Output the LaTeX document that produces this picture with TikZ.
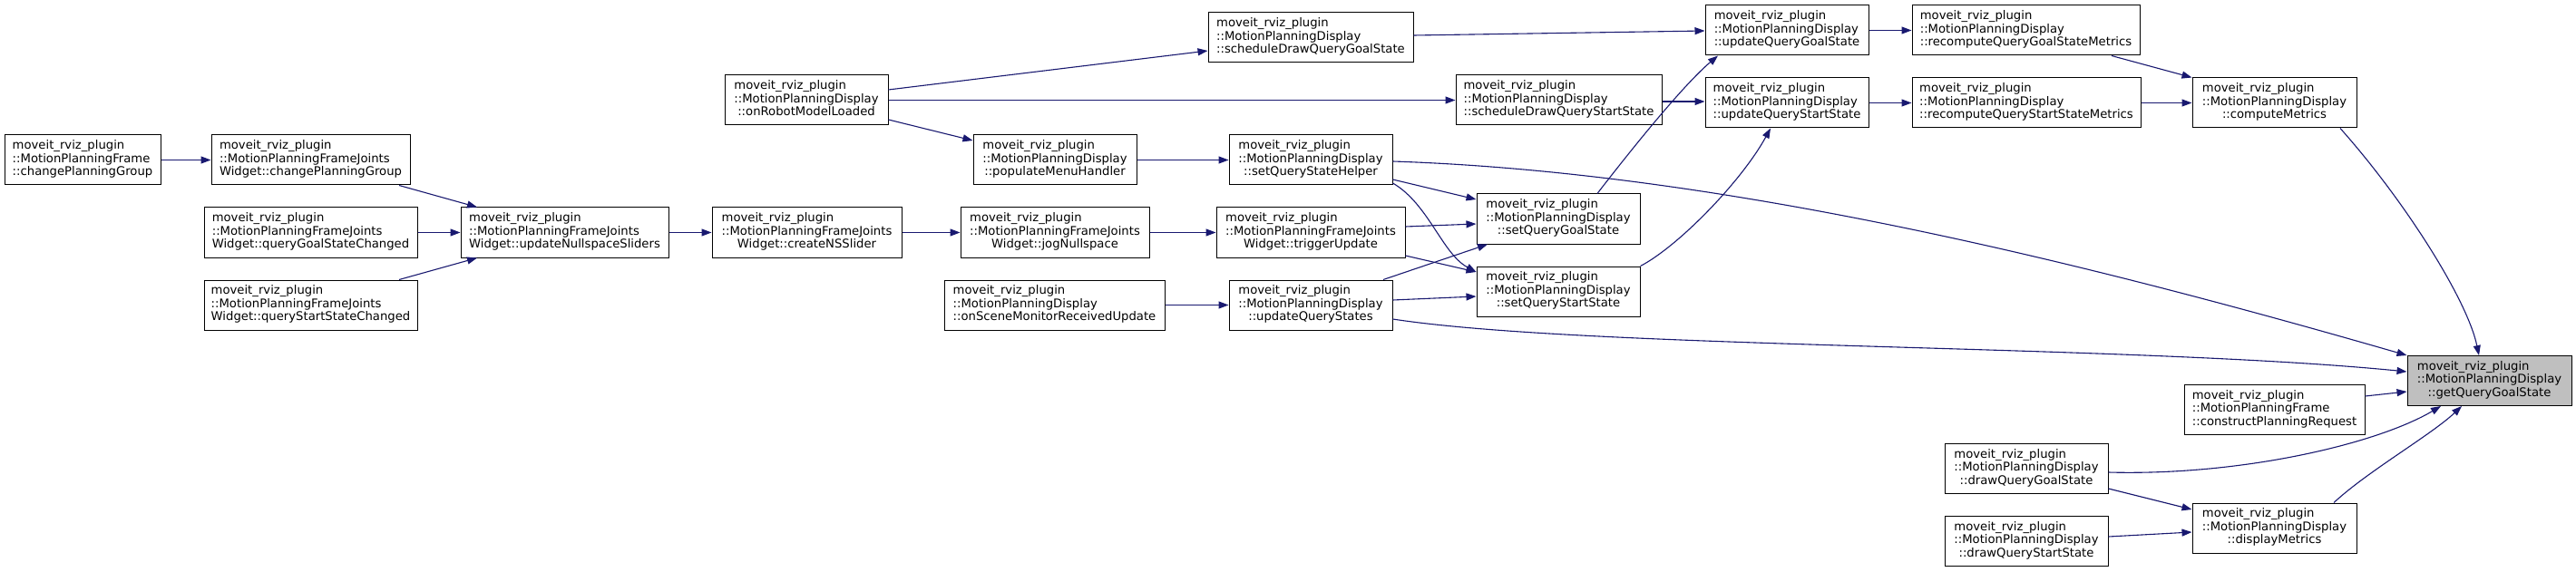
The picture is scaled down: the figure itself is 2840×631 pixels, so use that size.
\documentclass[tikz,border=0pt]{standalone}
\usepackage{fontspec}
\setmainfont{DejaVu Sans}
\usetikzlibrary{arrows.meta}
\definecolor{edgec}{HTML}{191970}
\definecolor{hilite}{HTML}{BFBFBF}
\newcommand\lbl[3]{\begin{tabular}{@{}l@{}}#1\\#2\\\multicolumn{1}{@{}c@{}}{#3}\end{tabular}}
\newcommand\mrp{moveit\_rviz\_plugin}
\newcommand\mpd{::MotionPlanningDisplay}
\newcommand\mpfj{::MotionPlanningFrameJoints}
\begin{document}
\begin{tikzpicture}[x=1pt,y=-1pt,
  font=\fontsize{13.2}{14.5}\selectfont,
  dbox/.style={draw=black,line width=1pt,fill=white,inner sep=0pt,minimum height=55pt,align=center},
  edge/.style={draw=edgec,line width=1.1pt,-{Triangle[length=11pt,width=8pt]}}]
\fill[white] (0,0) rectangle (2840,631);
\useasboundingbox (0,0) rectangle (2840,631);
% nodes
\node[dbox,minimum width=172] (fcpg) at (91,176.5) {\lbl{\mrp}{::MotionPlanningFrame}{::changePlanningGroup}};
\node[dbox,minimum width=219] (jcpg) at (342.5,176.5) {\lbl{\mrp}{\mpfj}{Widget::changePlanningGroup}};
\node[dbox,minimum width=235] (qgsc) at (342.5,256.5) {\lbl{\mrp}{\mpfj}{Widget::queryGoalStateChanged}};
\node[dbox,minimum width=235] (qssc) at (342.5,336.5) {\lbl{\mrp}{\mpfj}{Widget::queryStartStateChanged}};
\node[dbox,minimum width=229] (uns) at (622.5,256.5) {\lbl{\mrp}{\mpfj}{Widget::updateNullspaceSliders}};
\node[dbox,minimum width=209] (cns) at (889.5,256.5) {\lbl{\mrp}{\mpfj}{Widget::createNSSlider}};
\node[dbox,minimum width=180] (orml) at (889,110.5) {\lbl{\mrp}{\mpd}{::onRobotModelLoaded}};
\node[dbox,minimum width=208] (jog) at (1163,256.5) {\lbl{\mrp}{\mpfj}{Widget::jogNullspace}};
\node[dbox,minimum width=243] (smru) at (1162.5,336.5) {\lbl{\mrp}{\mpd}{::onSceneMonitorReceivedUpdate}};
\node[dbox,minimum width=180] (pmh) at (1163,176.5) {\lbl{\mrp}{\mpd}{::populateMenuHandler}};
\node[dbox,minimum width=226] (sdqgs) at (1445,41.5) {\lbl{\mrp}{\mpd}{::scheduleDrawQueryGoalState}};
\node[dbox,minimum width=180] (sqsh) at (1445,176.5) {\lbl{\mrp}{\mpd}{::setQueryStateHelper}};
\node[dbox,minimum width=208] (tu) at (1445,256.5) {\lbl{\mrp}{\mpfj}{Widget::triggerUpdate}};
\node[dbox,minimum width=180] (uqs) at (1445,336.5) {\lbl{\mrp}{\mpd}{::updateQueryStates}};
\node[dbox,minimum width=227] (sdqss) at (1718.5,110.5) {\lbl{\mrp}{\mpd}{::scheduleDrawQueryStartState}};
\node[dbox,minimum width=180] (sqgs) at (1718,241.5) {\lbl{\mrp}{\mpd}{::setQueryGoalState}};
\node[dbox,minimum width=180] (sqss) at (1718,321.5) {\lbl{\mrp}{\mpd}{::setQueryStartState}};
\node[dbox,minimum width=180] (uqgs) at (1970,33.5) {\lbl{\mrp}{\mpd}{::updateQueryGoalState}};
\node[dbox,minimum width=180] (uqss) at (1970,113.5) {\lbl{\mrp}{\mpd}{::updateQueryStartState}};
\node[dbox,minimum width=251] (rqgsm) at (2233.5,33.5) {\lbl{\mrp}{\mpd}{::recomputeQueryGoalStateMetrics}};
\node[dbox,minimum width=252] (rqssm) at (2234,113.5) {\lbl{\mrp}{\mpd}{::recomputeQueryStartStateMetrics}};
\node[dbox,minimum width=181] (cm) at (2507.5,113.5) {\lbl{\mrp}{\mpd}{::computeMetrics}};
\node[dbox,minimum width=181,fill=hilite] (gqgs) at (2744.5,420) {\lbl{\mrp}{\mpd}{::getQueryGoalState}};
\node[dbox,minimum width=199] (cpr) at (2507.5,452) {\lbl{\mrp}{::MotionPlanningFrame}{::constructPlanningRequest}};
\node[dbox,minimum width=180] (dqgs) at (2234,517) {\lbl{\mrp}{\mpd}{::drawQueryGoalState}};
\node[dbox,minimum width=180] (dqss) at (2234,597) {\lbl{\mrp}{\mpd}{::drawQueryStartState}};
\node[dbox,minimum width=181] (dm) at (2507.5,582.5) {\lbl{\mrp}{\mpd}{::displayMetrics}};
% edges
\draw[edge] (fcpg.east) -- (jcpg.west);
\draw[edge] (jcpg.south -| 440,0) -- (uns.north -| 526,0);
\draw[edge] (qgsc.east) -- (uns.west);
\draw[edge] (qssc.north -| 440,0) -- (uns.south -| 526,0);
\draw[edge] (uns.east) -- (cns.west);
\draw[edge] (cns.east) -- (jog.west);
\draw[edge] (jog.east) -- (tu.west);
\draw[edge] (tu.east |- 0,250) -- (sqgs.west |- 0,247);
\draw[edge] (tu.east |- 0,282) -- (sqss.west |- 0,300);
\draw[edge] (orml.east |- 0,99) -- (sdqgs.west |- 0,56);
\draw[edge] (orml.east) -- (sdqss.west);
\draw[edge] (orml.east |- 0,132) -- (pmh.west |- 0,155);
\draw[edge] (pmh.east) -- (sqsh.west);
\draw[edge] (sqsh.east |- 0,198) -- (sqgs.west |- 0,220);
\draw[edge] (sqsh.east |- 0,202) .. controls (1575,225) and (1590,280) .. (sqss.west |- 0,300);
\draw[edge] (sqsh.east |- 0,178) .. controls (1900,190) and (2300,290) .. (gqgs.north west);
\draw[edge] (smru.east) -- (uqs.west);
\draw[edge] (uqs.north -| 1525,0) -- (sqgs.south -| 1640,0);
\draw[edge] (uqs.east |- 0,331) -- (sqss.west |- 0,327);
\draw[edge] (uqs.east |- 0,352) .. controls (1750,385) and (2350,380) .. (gqgs.west |- 0,410);
\draw[edge] (sdqgs.east |- 0,39) -- (uqgs.west |- 0,34);
\draw[edge] (sdqss.east |- 0,112) -- (uqss.west |- 0,112);
\draw[edge] (sqgs.north -| 1761,0) .. controls (1810,150) and (1860,90) .. (uqgs.south -| 1894,0);
\draw[edge] (sqss.north east) .. controls (1850,272) and (1920,200) .. (uqss.south -| 1952,0);
\draw[edge] (uqgs.east) -- (rqgsm.west);
\draw[edge] (uqss.east) -- (rqssm.west);
\draw[edge] (rqgsm.south -| 2328,0) -- (cm.north west);
\draw[edge] (rqssm.east) -- (cm.west);
\draw[edge] (cm.south -| 2580,0) .. controls (2650,220) and (2720,330) .. (gqgs.north -| 2733,0);
\draw[edge] (cpr.east |- 0,437) -- (gqgs.west |- 0,432);
\draw[edge] (dqgs.east |- 0,521) .. controls (2470,525) and (2620,490) .. (gqgs.south -| 2691,0);
\draw[edge] (dqgs.east |- 0,539) -- (dm.west |- 0,562);
\draw[edge] (dqss.east |- 0,592) -- (dm.west |- 0,587);
\draw[edge] (dm.north -| 2573,0) .. controls (2610,520) and (2680,480) .. (gqgs.south -| 2714,0);
\end{tikzpicture}
\end{document}
